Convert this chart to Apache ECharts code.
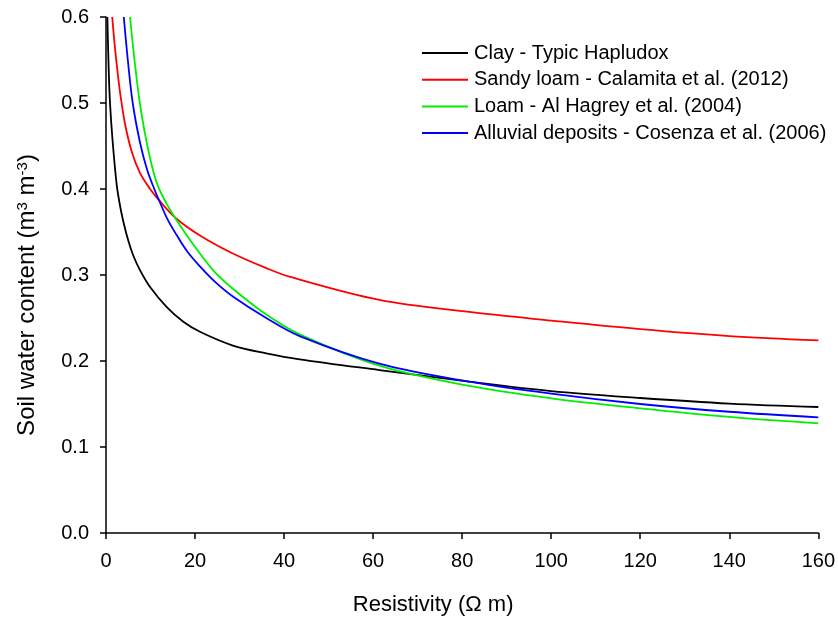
<!DOCTYPE html>
<html>
<head>
<meta charset="utf-8">
<script src="https://cdn.jsdelivr.net/npm/echarts@6/dist/echarts.min.js"></script>
<style>html,body{margin:0;padding:0;background:#fff}#c{width:838px;height:621px}</style>
</head>
<body>
<div id="c"></div>
<script>
var seriesNames = ['Clay - Typic Hapludox', 'Sandy loam - Calamita et al. (2012)', 'Loam - Al Hagrey et al. (2004)', 'Alluvial deposits - Cosenza et al. (2006)'];
var xTicks = [0, 20, 40, 60, 80, 100, 120, 140, 160];
var yTicks = [0.0, 0.1, 0.2, 0.3, 0.4, 0.5, 0.6];

var clayX = [0.3, 0.6, 0.9, 1.5, 2.4, 3.1, 3.9, 5.0, 6.1, 7.6, 9.9, 13.6, 17.3, 21.1, 28.5, 36, 43.5, 61.4, 81.6, 100, 120, 140, 160];
var clayY = [0.6, 0.54, 0.5, 0.455, 0.405, 0.382, 0.362, 0.34, 0.323, 0.306, 0.286, 0.263, 0.246, 0.234, 0.218, 0.209, 0.202, 0.1895, 0.176, 0.165, 0.157, 0.1505, 0.1465];

var sandyX = [1.4, 2.0, 2.8, 3.3, 4.3, 5.75, 7.6, 9.9, 11.9, 15.7, 21.1, 28.5, 36, 41.2, 61.4, 81.6, 100, 120, 140, 160];
var sandyY = [0.6, 0.565, 0.527, 0.507, 0.475, 0.444, 0.419, 0.40, 0.387, 0.366, 0.346, 0.325, 0.308, 0.298, 0.271, 0.257, 0.247, 0.237, 0.229, 0.224];

var loamX = [5.4, 6.4, 7.6, 9.1, 10.4, 11.7, 13.6, 15.7, 18, 21.1, 24.5, 28.5, 36, 43.5, 61.4, 81.6, 100, 120, 140, 160];
var loamY = [0.6, 0.55, 0.5, 0.455, 0.425, 0.403, 0.383, 0.365, 0.347, 0.325, 0.303, 0.284, 0.254, 0.231, 0.1946, 0.171, 0.1566, 0.145, 0.135, 0.1275];

var alluvX = [4.0, 4.9, 6.0, 7.6, 9.2, 11.0, 11.9, 13.8, 15.8, 18.3, 21.1, 24.5, 28.5, 36, 43.5, 61.4, 81.6, 100, 120, 140, 160];
var alluvY = [0.6, 0.55, 0.5, 0.455, 0.423, 0.398, 0.387, 0.365, 0.347, 0.327, 0.310, 0.292, 0.275, 0.250, 0.229, 0.197, 0.176, 0.162, 0.150, 0.141, 0.1345];

var colors = ['#000000', '#ff0000', '#00ee00', '#0000ff'];
var xs = [clayX, sandyX, loamX, alluvX];
var ys = [clayY, sandyY, loamY, alluvY];

function pairs(a, b) { return a.map(function (v, i) { return [v, b[i]]; }); }

var FONT = '"Liberation Sans", Arial, sans-serif';
var chart = echarts.init(document.getElementById('c'), null, { renderer: 'canvas' });
chart.setOption({
  animation: false,
  backgroundColor: '#ffffff',
  textStyle: { fontFamily: FONT },
  grid: { left: 106, top: 17, right: 18, bottom: 88, containLabel: false },
  legend: {
    orient: 'vertical',
    left: 417,
    top: 37,
    itemWidth: 46,
    itemHeight: 14,
    itemGap: 4.7,
    icon: 'path://M0,6 L46,6 L46,8 L0,8 Z',
    data: seriesNames.map(function (n, i) { return { name: n, itemStyle: { color: colors[i] } }; }),
    textStyle: { fontFamily: FONT, fontSize: 20, color: '#000', lineHeight: 22, padding: [0, 0, 0, 1] }
  },
  xAxis: {
    type: 'value',
    min: xTicks[0], max: xTicks[xTicks.length - 1], interval: 20,
    name: 'Resistivity (\u03A9 m)',
    nameLocation: 'middle',
    nameGap: 61,
    nameTextStyle: { fontFamily: FONT, fontSize: 22, color: '#000', padding: [0, 58, 0, 0] },
    axisLine: { onZero: false, lineStyle: { color: '#000', width: 1.5 } },
    axisTick: { show: true, inside: false, length: 6, lineStyle: { color: '#000', width: 1.5 } },
    axisLabel: { margin: 18, fontFamily: FONT, fontSize: 20, color: '#000' },
    splitLine: { show: false }
  },
  yAxis: {
    type: 'value',
    min: yTicks[0], max: yTicks[yTicks.length - 1], interval: 0.1,
    name: '{n|Soil water content (m}{s|3}{n| m}{s|-3}{n|)}',
    nameLocation: 'middle',
    nameGap: 67,
    nameRotate: 90,
    nameTextStyle: {
      fontFamily: FONT, fontSize: 24, color: '#000', padding: [0, 40, 0, 0],
      rich: {
        n: { fontFamily: FONT, fontSize: 24, color: '#000' },
        s: { fontFamily: FONT, fontSize: 15, color: '#000', verticalAlign: 'top', lineHeight: 15 }
      }
    },
    axisLine: { show: true, onZero: false, lineStyle: { color: '#000', width: 1.5 } },
    axisTick: { show: true, inside: false, length: 6, lineStyle: { color: '#000', width: 1.5 } },
    axisLabel: {
      margin: 17, fontFamily: FONT, fontSize: 20, color: '#000',
      formatter: function (v) { return v.toFixed(1); }
    },
    splitLine: { show: false }
  },
  series: seriesNames.map(function (n, i) {
    return {
      name: n,
      type: 'line',
      data: pairs(xs[i], ys[i]),
      showSymbol: false,
      symbol: 'none',
      smooth: 0.35,
      clip: true,
      lineStyle: { color: colors[i], width: 1.8 },
      itemStyle: { color: colors[i] }
    };
  })
});
</script>
</body>
</html>
